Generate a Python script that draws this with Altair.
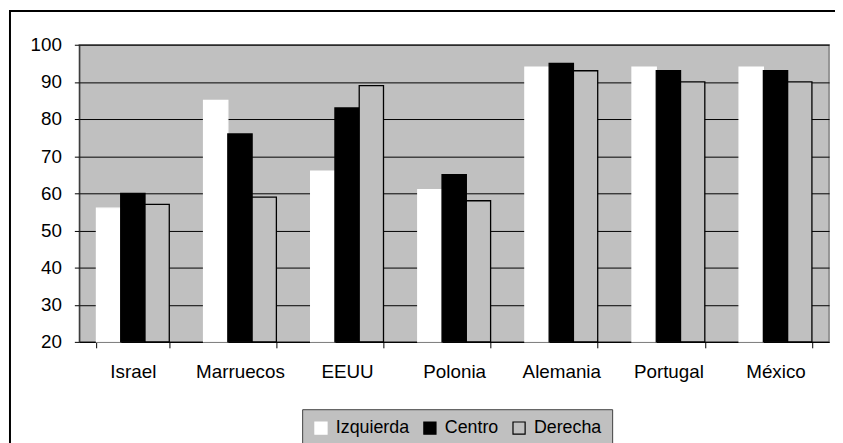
import altair as alt
import pandas as pd

paises = ["Israel", "Marruecos", "EEUU", "Polonia", "Alemania", "Portugal", "México"]
series = ["Izquierda", "Centro", "Derecha"]
izquierda = [56, 85, 66, 61, 94, 94, 94]
centro = [60, 76, 83, 65, 95, 93, 93]
derecha = [57, 59, 89, 58, 93, 90, 90]
y_ticks = [20, 30, 40, 50, 60, 70, 80, 90, 100]
y_min, y_max = 20, 100

rows = []
for i, p in enumerate(paises):
    for s, vals in zip(series, [izquierda, centro, derecha]):
        rows.append({"pais": p, "serie": s, "valor": vals[i]})
df = pd.DataFrame(rows)

W, H = 757, 300
FONT = "Liberation Sans"

legend_cfg = alt.Legend(
    title=None,
    orient="none",
    legendX=225,
    legendY=368,
    direction="horizontal",
    fillColor="#C0C0C0",
    strokeColor="#404040",
    padding=10,
    symbolType="square",
    symbolSize=150,
    symbolStrokeWidth=1.2,
    labelFont=FONT,
    labelFontSize=18,
    labelColor="#000000",
    labelOffset=6,
    columnPadding=11,
)

fill_scale = alt.Scale(domain=series, range=["#FFFFFF", "#000000", "#C0C0C0"])
stroke_scale = alt.Scale(domain=series, range=["#FFFFFF", "#000000", "#000000"])

bars = alt.Chart(df).mark_bar(strokeWidth=1.3).encode(
    x=alt.X(
        "pais:N",
        sort=paises,
        title=None,
        scale=alt.Scale(paddingInner=0.32, paddingOuter=0.16),
        axis=alt.Axis(
            labelAngle=0,
            labelFont=FONT,
            labelFontSize=19,
            labelColor="#000000",
            labelPadding=15,
            tickBand="extent",
            tickSize=6,
            tickColor="#000000",
            domainColor="#000000",
            grid=False,
        ),
    ),
    xOffset=alt.XOffset("serie:N", sort=series, scale=alt.Scale(paddingInner=0, paddingOuter=0)),
    y=alt.Y(
        "valor:Q",
        title=None,
        scale=alt.Scale(domain=[y_min, y_max], zero=False, nice=False),
        axis=alt.Axis(
            values=y_ticks,
            labelFont=FONT,
            labelFontSize=19,
            labelColor="#000000",
            labelPadding=13,
            tickSize=5,
            tickColor="#000000",
            domainColor="#202020",
            grid=True,
            gridColor="#000000",
            gridWidth=1,
        ),
    ),
    y2=alt.datum(y_min),
    fill=alt.Fill("serie:N", sort=series, scale=fill_scale, legend=legend_cfg),
    stroke=alt.Stroke("serie:N", sort=series, scale=stroke_scale, legend=legend_cfg),
)

frame = alt.Chart(alt.Data(values=[{"a": 1}])).mark_rect(
    fill="transparent", stroke="#000000", strokeWidth=2, clip=False
).encode(
    x=alt.value(-70), x2=alt.value(W + 40), y=alt.value(-34), y2=alt.value(H + 150)
)

chart = alt.layer(frame, bars).properties(
    width=W,
    height=H,
    background="#FFFFFF",
    autosize=alt.AutoSizeParams(type="none"),
    padding={"left": 72, "top": 35, "right": 6, "bottom": 100},
).configure_view(
    fill="#C0C0C0", stroke="#808080", strokeWidth=1.5
)

chart.save("out.html", embed_options={"renderer": "svg", "actions": False})
